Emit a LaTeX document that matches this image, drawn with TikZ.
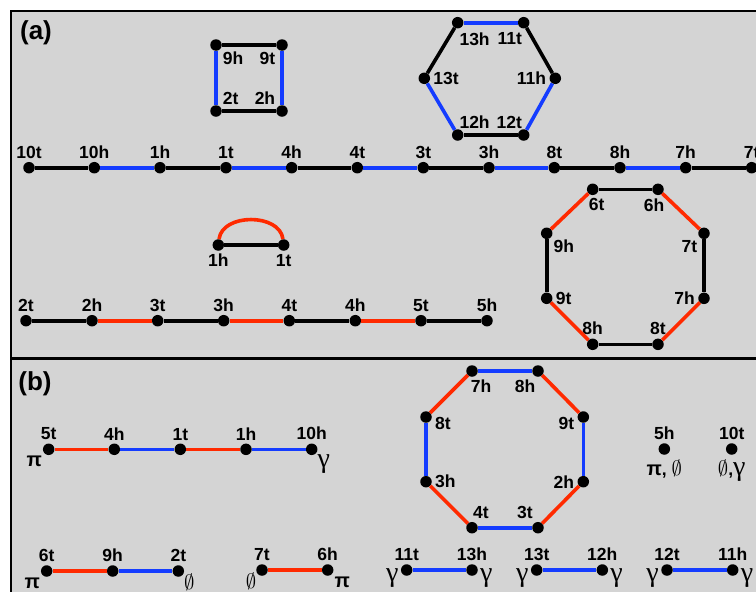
\documentclass[tikz,border=0pt]{standalone}
\usepackage{fontspec}
\setmainfont{Liberation Sans}
\newfontfamily\greekserif{Liberation Serif}

\definecolor{edgeblue}{RGB}{20,60,255}
\definecolor{edgered}{RGB}{255,42,0}
\definecolor{panelgrey}{RGB}{212,212,212}

\newcommand{\vtxfont}{\bfseries\fontsize{17.5}{17.5}\selectfont}
\newcommand{\gam}{{\normalfont\greekserif\fontsize{28}{28}\selectfont γ}}
\newcommand{\pibold}{{\bfseries\fontsize{20}{20}\selectfont π}}
\newcommand{\emp}{{\normalfont\fontsize{21}{21}\selectfont$\emptyset$}}

\begin{document}
\begin{tikzpicture}[
		x=1pt, y=-1pt,
		dot/.style={circle, fill, inner sep=0pt, minimum size=11.5pt},
		every label/.append style={rectangle, inner sep=1pt, font=\vtxfont},
		label distance=2pt,
		blk/.style={line width=3.6pt},
		blu/.style={line width=3.6pt, edgeblue},
		rd/.style={line width=3.6pt, edgered},
		panel/.style={font=\bfseries\fontsize{26}{26}\selectfont}
	]
  \useasboundingbox (0,0) rectangle (756,592);
  \clip (0,0) rectangle (756,592);
  \fill[panelgrey] (11,11) rectangle (780,620);
  \draw[line width=2pt] (11,620) -- (11,11) -- (780,11);
  \draw[line width=3pt] (11,358.3) -- (780,358.3);
  \node (pan_a) [panel] at (36,33) {(a)};
  \node (pan_b) [panel] at (35,384) {(b)};

  % (a) square
  \node (sq_9h) [dot, label=below right:9h] at (216,45) {};
  \node (sq_9t) [dot, label=below left:9t] at (282,45) {};
  \node (sq_2t) [dot, label=above right:2t] at (216,111) {};
  \node (sq_2h) [dot, label=above left:2h] at (282,111) {};
  \draw[blk] (sq_9h) -- (sq_9t);
  \draw[blk] (sq_2t) -- (sq_2h);
  \draw[blu] (sq_9h) -- (sq_2t);
  \draw[blu] (sq_9t) -- (sq_2h);

  % (a) hexagon
  \node (hx_13h) [dot, label={[xshift=-5pt, yshift=-3pt]below right:13h}] at (457.7,22.7) {};
  \node (hx_11t) [dot, label={[xshift=5pt, yshift=-3pt]below left:11t}] at (523.7,22.7) {};
  \node (hx_13t) [dot, label=right:13t] at (424.3,78.3) {};
  \node (hx_11h) [dot, label=left:11h] at (555.3,78.3) {};
  \node (hx_12h) [dot, label={[xshift=-5pt]above right:12h}] at (457.7,135) {};
  \node (hx_12t) [dot, label={[xshift=5pt]above left:12t}] at (523.7,135) {};
  \draw[blu] (hx_13h) -- (hx_11t);
  \draw[blk] (hx_11t) -- (hx_11h);
  \draw[blu] (hx_11h) -- (hx_12t);
  \draw[blk] (hx_12t) -- (hx_12h);
  \draw[blu] (hx_12h) -- (hx_13t);
  \draw[blk] (hx_13t) -- (hx_13h);

  % (a) long line
  \node (la_10t) [dot, label=above:10t] at (29,167.7) {};
  \node (la_10h) [dot, label=above:10h] at (94.3,167.7) {};
  \node (la_1h) [dot, label=above:1h] at (160,167.7) {};
  \node (la_1t) [dot, label=above:1t] at (226,167.7) {};
  \node (la_4h) [dot, label=above:4h] at (291.7,167.7) {};
  \node (la_4t) [dot, label=above:4t] at (357.3,167.7) {};
  \node (la_3t) [dot, label=above:3t] at (423.3,167.7) {};
  \node (la_3h) [dot, label=above:3h] at (489,167.7) {};
  \node (la_8t) [dot, label=above:8t] at (554.3,167.7) {};
  \node (la_8h) [dot, label=above:8h] at (620,167.7) {};
  \node (la_7h) [dot, label=above:7h] at (685.7,167.7) {};
  \node (la_7t) [dot, label=above:7t] at (751.7,167.7) {};
  \draw[blk] (la_10t) -- (la_10h);
  \draw[blu] (la_10h) -- (la_1h);
  \draw[blk] (la_1h) -- (la_1t);
  \draw[blu] (la_1t) -- (la_4h);
  \draw[blk] (la_4h) -- (la_4t);
  \draw[blu] (la_4t) -- (la_3t);
  \draw[blk] (la_3t) -- (la_3h);
  \draw[blu] (la_3h) -- (la_8t);
  \draw[blk] (la_8t) -- (la_8h);
  \draw[blu] (la_8h) -- (la_7h);
  \draw[blk] (la_7h) -- (la_7t);

  % (a) loop
  \node (lp_1h) [dot, label=below:1h] at (218.3,245) {};
  \node (lp_1t) [dot, label=below:1t] at (283.7,245) {};
  \draw[blk] (lp_1h) -- (lp_1t);
  \draw[rd] (lp_1h) .. controls +(4,-32) and +(-4,-32) .. (lp_1t);

  % (a) lower line
  \node (lb_2t) [dot, label=above:2t] at (26,320.7) {};
  \node (lb_2h) [dot, label=above:2h] at (92,320.7) {};
  \node (lb_3t) [dot, label=above:3t] at (157.7,320.7) {};
  \node (lb_3h) [dot, label=above:3h] at (223.7,320.7) {};
  \node (lb_4t) [dot, label=above:4t] at (289.3,320.7) {};
  \node (lb_4h) [dot, label=above:4h] at (355.3,320.7) {};
  \node (lb_5t) [dot, label=above:5t] at (421,320.7) {};
  \node (lb_5h) [dot, label=above:5h] at (487,320.7) {};
  \draw[blk] (lb_2t) -- (lb_2h);
  \draw[rd] (lb_2h) -- (lb_3t);
  \draw[blk] (lb_3t) -- (lb_3h);
  \draw[rd] (lb_3h) -- (lb_4t);
  \draw[blk] (lb_4t) -- (lb_4h);
  \draw[rd] (lb_4h) -- (lb_5t);
  \draw[blk] (lb_5t) -- (lb_5h);

  % (a) octagon
  \node (oa_6t) [dot, label={[xshift=4pt]below:6t}] at (592.7,189.3) {};
  \node (oa_6h) [dot, label={[xshift=-4pt]below:6h}] at (658,189.3) {};
  \node (oa_7t) [dot, label=below left:7t] at (704,233.3) {};
  \node (oa_7h) [dot, label=left:7h] at (704,298.3) {};
  \node (oa_8t) [dot, label=above:8t] at (658,344.3) {};
  \node (oa_8h) [dot, label=above:8h] at (592.7,344.3) {};
  \node (oa_9t) [dot, label=right:9t] at (546.7,298.3) {};
  \node (oa_9h) [dot, label=below right:9h] at (546.7,233.3) {};
  \draw[blk] (oa_6t) -- (oa_6h);
  \draw[rd] (oa_6h) -- (oa_7t);
  \draw[blk] (oa_7t) -- (oa_7h);
  \draw[rd] (oa_7h) -- (oa_8t);
  \draw[blk] (oa_8t) -- (oa_8h);
  \draw[rd] (oa_8h) -- (oa_9t);
  \draw[blk] (oa_9t) -- (oa_9h);
  \draw[rd] (oa_9h) -- (oa_6t);

  % (b) paths
  \node (p1_5t) [dot, label=above:5t, label=below left:\pibold] at (48.7,449.3) {};
  \node (p1_4h) [dot, label=above:4h] at (114.3,449.3) {};
  \node (p1_1t) [dot, label=above:1t] at (180.3,449.3) {};
  \node (p1_1h) [dot, label=above:1h] at (246,449.3) {};
  \node (p1_10h) [dot, label=above:10h, label={[inner sep=0pt]below right:\gam}] at (311.7,449.3) {};
  \draw[rd] (p1_5t) -- (p1_4h);
  \draw[blu] (p1_4h) -- (p1_1t);
  \draw[rd] (p1_1t) -- (p1_1h);
  \draw[blu] (p1_1h) -- (p1_10h);

  \node (p2_6t) [dot, label=above:6t, label=below left:\pibold] at (46.7,571) {};
  \node (p2_9h) [dot, label=above:9h] at (112.7,571) {};
  \node (p2_2t) [dot, label=above:2t, label={[inner sep=0pt, yshift=3pt]below right:\emp}] at (178.3,571) {};
  \draw[rd] (p2_6t) -- (p2_9h);
  \draw[blu] (p2_9h) -- (p2_2t);

  \node (p3_7t) [dot, label=above:7t, label={[inner sep=0pt, yshift=3pt]below left:\emp}] at (262,570) {};
  \node (p3_6h) [dot, label=above:6h, label=below right:\pibold] at (327.7,570) {};
  \draw[rd] (p3_7t) -- (p3_6h);

  % (b) octagon
  \node (ob_7h) [dot, label={[xshift=9pt]below:7h}] at (472,371) {};
  \node (ob_8h) [dot, label={[xshift=-13pt]below:8h}] at (538,371) {};
  \node (ob_9t) [dot, label={[yshift=-6pt]left:9t}] at (583.3,417) {};
  \node (ob_2h) [dot, label=left:2h] at (583.3,481.7) {};
  \node (ob_3t) [dot, label={[xshift=-13pt]above:3t}] at (538,527.7) {};
  \node (ob_4t) [dot, label={[xshift=9pt]above:4t}] at (472,527.7) {};
  \node (ob_3h) [dot, label=right:3h] at (426,481.7) {};
  \node (ob_8t) [dot, label={[yshift=-6pt]right:8t}] at (426,417) {};
  \draw[blu] (ob_7h) -- (ob_8h);
  \draw[rd] (ob_8h) -- (ob_9t);
  \draw[blu] (ob_9t) -- (ob_2h);
  \draw[rd] (ob_2h) -- (ob_3t);
  \draw[blu] (ob_3t) -- (ob_4t);
  \draw[rd] (ob_4t) -- (ob_3h);
  \draw[blu] (ob_3h) -- (ob_8t);
  \draw[rd] (ob_8t) -- (ob_7h);

  % (b) single ends
  \node (s_5h) [dot, label=above:5h, label={[yshift=-2pt]below:{\pibold, \emp}}] at (664.3,449) {};
  \node (s_10t) [dot, label=above:10t, label={[yshift=-2pt]below:{\emp,\gam}}] at (731.7,449) {};

  % (b) gamma paths
  \node (q1_11t) [dot, label=above:11t, label={[yshift=-8pt, inner sep=0pt]left:\gam}] at (406.7,570) {};
  \node (q1_13h) [dot, label=above:13h, label={[yshift=-8pt, inner sep=0pt]right:\gam}] at (472,570) {};
  \node (q2_13t) [dot, label=above:13t, label={[yshift=-8pt, inner sep=0pt]left:\gam}] at (536.7,570) {};
  \node (q2_12h) [dot, label=above:12h, label={[yshift=-8pt, inner sep=0pt]right:\gam}] at (602.3,570) {};
  \node (q3_12t) [dot, label=above:12t, label={[yshift=-8pt, inner sep=0pt]left:\gam}] at (667,570) {};
  \node (q3_11h) [dot, label=above:11h, label={[yshift=-8pt, inner sep=0pt]right:\gam}] at (732.7,570) {};
  \draw[blu] (q1_11t) -- (q1_13h);
  \draw[blu] (q2_13t) -- (q2_12h);
  \draw[blu] (q3_12t) -- (q3_11h);
\end{tikzpicture}
\end{document}
